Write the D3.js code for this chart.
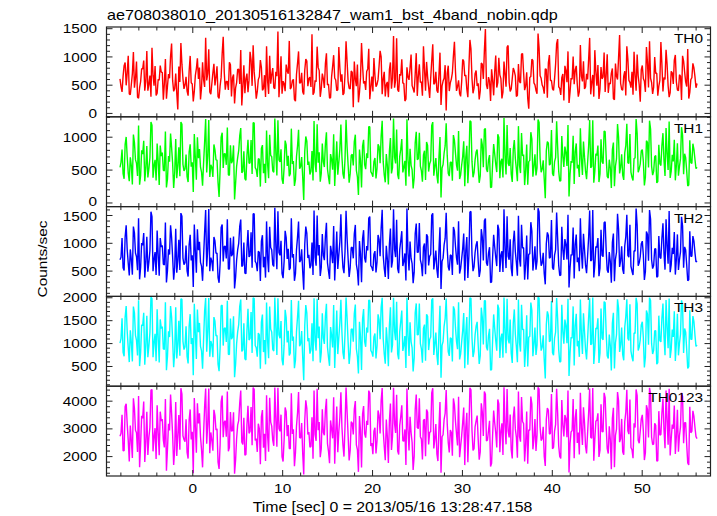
<!DOCTYPE html>
<html><head><meta charset="utf-8">
<script src="https://cdn.jsdelivr.net/npm/d3@7"></script>
<style>html,body{margin:0;padding:0;background:#fff;}svg{display:block;}</style>
</head><body>
<svg id="chart" width="717" height="516"></svg>
<script>
const title = "ae708038010_20130516132847_wam1_bst_4band_nobin.qdp";
const xLabel = "Time [sec] 0 = 2013/05/16 13:28:47.158";
const yLabel = "Counts/sec";
const tStart = -8.1, tEnd = 56.1;
const xTicksMajor = [0, 10, 20, 30, 40, 50];
const seriesNames = ["TH0", "TH1", "TH2", "TH3", "TH0123"];
const seriesColors = ["#ff0000", "#00ff00", "#0000ff", "#00ffff", "#ff00ff"];
const yDomains = [[-60, 1530], [-55, 1310], [45, 1660], [70, 2030], [1300, 4540]];
const yTickLabels = [[0, 500, 1000, 1500], [0, 500, 1000], [500, 1000, 1500], [500, 1000, 1500, 2000], [2000, 3000, 4000]];
const yMinorStep = [100, 100, 100, 100, 200];

// Each light curve is listed as two read-off halves of alternating bins (even bins, odd bins).
const TH0_even = [612,380,845,497,1021,330,702,455,918,270,563,788,402,1104,515,296,677,840,358,590,
731,244,965,480,622,1237,391,705,68,556,872,434,649,315,1018,520,389,793,611,247,
904,468,585,1136,342,718,497,833,265,642,1355,420,566,907,301,688,452,779,523,139,
851,614,376,1092,488,735,262,598,943,410,677,1190,345,526,802,438,660,287,1012,571,
392,749,1284,466,603,218,887,539,720,335,964,481,642,1401,370,561,815,294,705,452,
1063,518,276,834,627,401,1175,563,327,690,918,445,752,109,607,866,372,1247,530,416,
788,253,651,980,472,598,1109,341,736,512,287,903,628,455,1329,384,672,541,219,817,
594,1042,437,702,311,869,560,1188,402,648,275,931,517,738,366,1076,489,623,54,845,
541,716,1268,398,587,302,955,664,428,813,1142,357,701,486,247,892,611,1495,433,569,
781,320,1026,547,683,264,918,472,1203,389,615,750,298,874,539,1061,412,728,83,652,
937,506,349,1157,621,458,790,276,1034,583,407,869,1316,445,632,229,758,1098,381,604,
519,842,297,1213,566,431,703,957,338,681,1120,492,256,819,645,379,1045,537,714,262,
883,599,1387,426,658,318,962,549,735,1093,403,667,207,849,571,1176,458,622,344,997,
710,481,1262,389,603,871,288,746,522,1035,415,684,239,927,558,1141,372,631,806,455];
const TH0_odd = [473,655,902,718,344,512,1087,623,287,455,790,936,558,402,671,1163,489,318,604,847,
725,530,261,698,1012,584,437,362,829,1246,617,503,394,756,542,213,668,975,811,456,
592,1338,704,381,529,877,640,295,488,1059,733,567,414,862,630,176,547,781,1124,468,
359,706,589,943,1207,521,384,650,812,437,293,574,1021,688,455,739,1452,610,348,523,
866,702,431,579,248,693,1098,540,382,765,927,616,470,331,584,1182,757,439,612,883,
505,274,648,1031,592,418,806,691,357,1276,564,433,726,918,483,196,629,850,571,742,
1145,463,389,672,514,839,1003,611,302,558,775,436,1369,587,420,695,958,527,251,643,
809,492,371,1067,658,548,313,781,912,465,627,1224,539,406,688,151,572,854,713,396,
608,1018,745,477,352,563,926,681,288,1301,619,447,760,532,398,871,1105,504,643,222,
589,736,457,983,617,375,692,1172,548,431,803,664,319,562,1049,721,486,267,634,958,
541,407,1413,668,502,348,779,895,583,436,615,1236,472,328,697,843,551,186,624,1008,
768,513,384,659,921,470,602,1337,545,297,736,858,429,613,1079,680,364,521,795,242,
657,984,533,411,748,1190,586,455,329,672,1041,504,776,617,381,906,1278,548,467,709,
314,583,862,637,1126,489,369,718,945,556,402,661,1019,734,475,263,598,887,651,530];

const TH1_even = [540,812,367,1004,455,693,281,918,602,1176,418,745,329,866,521,1230,384,657,905,273,
714,498,1087,362,629,841,230,972,566,406,1195,489,738,318,893,617,1049,352,681,544,
264,927,463,1261,580,397,809,652,93,1002,533,746,1148,421,604,875,300,690,1019,458,
785,345,962,611,439,1217,508,672,249,880,595,1103,376,723,489,1284,417,653,815,291,
948,562,408,1130,636,355,867,520,698,47,1011,579,433,791,1246,468,612,325,904,547,
1073,391,744,505,259,936,620,1192,443,668,853,310,721,572,1038,397,811,236,959,514,
683,1159,446,629,374,892,603,1251,428,745,281,986,537,697,1115,362,818,465,640,1272,
402,573,220,914,656,1066,487,731,348,873,598,1177,415,682,296,1004,531,760,1210,453,
619,339,951,577,1094,426,706,254,869,610,1233,391,655,812,307,978,542,1130,470,728,
241,896,589,1045,378,671,1290,433,604,836,319,957,514,1168,455,716,272,889,628,1076,
398,741,532,1222,467,650,73,932,575,1109,412,689,845,330,1017,549,766,1185,441,613,
287,905,582,1134,426,697,362,861,534,1258,479,724,318,970,596,1084,405,658,228,918,
562,1199,450,741,351,873,613,1048,389,676,1276,466,595,812,267,947,538,1123,424,702,
305,884,569,1061,412,745,1237,483,631,344,906,556,1152,437,687,259,953,600,814,521];
const TH1_odd = [618,447,893,702,331,566,1041,659,412,278,803,946,527,389,690,1183,571,342,634,872,
765,488,236,712,1054,603,451,375,848,1231,586,519,401,779,552,168,684,998,820,470,
611,1277,713,396,542,889,655,307,503,1068,751,580,428,876,641,52,558,795,1139,482,
371,722,603,958,1219,537,397,667,829,452,305,588,1036,703,466,752,1258,624,362,538,
881,718,445,594,259,707,1112,553,394,780,940,630,483,343,597,1195,772,451,626,898,
517,286,661,1046,605,430,819,705,369,1264,577,446,741,933,495,121,642,864,584,757,
1158,476,400,685,527,853,1017,624,314,571,788,449,1283,600,433,709,972,540,263,656,
823,505,383,1081,671,561,325,795,926,478,641,1229,552,418,701,83,585,867,727,408,
621,1032,758,490,364,576,939,694,300,1248,632,460,774,545,410,885,1119,517,656,234,
602,749,470,997,630,387,705,1186,561,443,817,677,331,575,1063,735,498,279,647,972,
554,419,1270,681,515,360,793,909,596,448,628,1241,485,340,710,857,564,98,637,1022,
782,526,396,672,935,483,615,1262,558,309,749,872,441,626,1093,693,376,534,809,254,
670,998,546,423,762,1203,599,468,341,685,1055,517,790,630,393,920,1251,561,480,722,
326,596,876,650,1140,502,381,731,959,569,415,674,1033,748,488,275,611,901,664,543];

const TH2_even = [705,1093,512,1324,640,890,436,1188,758,1452,571,968,383,1117,662,1568,497,842,1230,418,
936,624,1372,509,797,1105,346,1261,689,521,1486,617,961,402,1154,783,1337,470,876,658,
325,1209,583,1617,742,497,1042,823,289,1285,674,947,1431,538,768,1120,392,880,1303,583,
1012,455,1239,781,562,1533,641,858,324,1146,756,1394,480,923,616,1640,533,835,1047,374,
1226,719,521,1452,808,452,1111,662,893,165,1300,737,550,1015,1589,596,783,414,1167,697,
1368,497,955,643,331,1211,792,1522,563,853,1093,394,921,730,1331,505,1039,302,1236,655,
872,1481,569,803,476,1150,768,1601,547,954,358,1264,685,889,1422,462,1045,592,818,1627,
513,731,283,1176,836,1364,622,935,442,1121,764,1502,530,871,377,1287,676,972,1548,577,
790,432,1221,736,1397,543,902,329,1111,778,1573,498,835,1038,394,1254,690,1447,598,930,
306,1151,750,1335,483,857,1611,554,772,1071,407,1227,655,1494,581,915,346,1138,803,1380,
509,946,679,1562,596,829,262,1197,733,1420,526,881,1081,421,1298,702,978,1513,563,784,
368,1158,745,1451,545,891,462,1103,684,1599,612,926,408,1243,760,1385,518,843,292,1175,
717,1532,575,946,449,1118,782,1335,498,865,1627,597,761,1039,341,1211,687,1436,544,898,
389,1132,726,1358,526,953,1582,618,806,437,1160,708,1478,559,879,327,1215,767,1040,663];
const TH2_odd = [748,561,1117,882,420,709,1302,826,517,352,1005,1186,661,489,866,1478,716,430,795,1094,
960,612,297,894,1322,756,566,471,1063,1543,735,651,503,977,692,215,858,1251,1028,589,
767,1600,893,497,680,1114,821,385,631,1338,942,727,537,1098,804,188,700,997,1427,604,
465,906,756,1200,1527,674,498,837,1040,568,383,738,1298,882,585,943,1575,783,454,675,
1104,900,558,745,325,887,1393,694,494,978,1179,791,606,430,749,1498,969,566,785,1128,
649,359,829,1311,759,539,1027,884,463,1584,724,560,929,1170,620,243,805,1083,732,950,
1451,597,502,859,661,1069,1276,783,394,716,988,563,1612,752,543,889,1218,677,330,822,
1032,634,481,1355,841,703,407,997,1162,600,803,1540,692,524,879,178,733,1087,912,512,
779,1294,951,614,457,722,1177,870,377,1563,792,577,970,683,514,1110,1403,648,822,294,
755,938,590,1250,790,486,884,1487,703,555,1024,848,416,721,1333,921,624,350,811,1219,
694,526,1630,853,646,452,994,1140,748,562,788,1555,608,427,889,1075,708,205,798,1282,
980,660,497,843,1173,606,771,1588,700,387,940,1094,553,785,1371,869,472,671,1016,319,
839,1252,684,531,955,1511,751,587,429,858,1325,649,991,789,493,1157,1597,704,602,903,
409,748,1099,815,1432,631,479,918,1203,713,521,846,1310,936,612,346,767,1130,833,680];

const TH3_even = [1012,1553,724,1820,905,1288,611,1672,1071,1946,808,1390,539,1605,948,2010,701,1213,1747,589,
1331,883,1904,717,1142,1580,486,1793,972,735,1968,869,1377,566,1642,1119,1867,663,1247,938,
452,1718,824,1995,1057,702,1489,1178,398,1826,956,1345,1933,760,1095,1594,548,1255,1812,828,
1441,643,1761,1114,797,1982,912,1228,451,1632,1076,1897,681,1311,875,2004,752,1190,1493,526,
1739,1023,738,1951,1152,640,1580,942,1273,201,1842,1049,781,1443,1990,847,1119,585,1660,992,
1870,704,1359,915,466,1721,1128,1958,800,1216,1556,557,1311,1040,1851,716,1477,425,1756,930,
1241,1937,809,1144,676,1639,1093,2001,776,1357,505,1791,973,1266,1914,657,1485,841,1165,1999,
729,1043,392,1672,1189,1877,885,1331,626,1597,1089,1951,752,1240,531,1826,961,1383,1985,818,
1124,611,1741,1047,1902,771,1286,462,1581,1108,1987,706,1189,1476,558,1784,982,1935,851,1324,
434,1637,1068,1851,687,1218,2003,788,1099,1524,576,1746,932,1963,826,1305,490,1618,1143,1896,
723,1348,966,1992,847,1180,238,1703,1042,1927,748,1252,1537,597,1846,999,1390,1977,800,1117,
521,1650,1060,1961,774,1265,655,1571,973,2008,869,1318,578,1767,1084,1890,736,1199,413,1674,
1019,1968,817,1348,636,1590,1115,1856,706,1232,1998,849,1083,1475,481,1724,976,1942,773,1278,
551,1610,1036,1873,748,1358,1984,880,1147,621,1652,1008,1943,795,1251,459,1729,1092,1480,940];
const TH3_odd = [1109,812,1581,1265,596,1021,1807,1178,740,509,1412,1672,951,703,1243,1986,1025,617,1131,1528,
1370,873,421,1269,1820,1082,805,674,1500,1972,1049,933,721,1381,990,309,1226,1745,1451,842,
1095,1994,1270,712,974,1578,1168,552,903,1839,1331,1035,768,1546,1145,268,1001,1412,1960,862,
667,1289,1078,1690,2002,960,714,1192,1471,815,547,1055,1811,1255,836,1341,1988,1116,650,966,
1565,1280,797,1063,465,1262,1933,990,707,1387,1666,1122,865,615,1067,1979,1375,808,1118,1597,
925,515,1180,1840,1083,771,1450,1259,661,2006,1032,800,1323,1654,885,348,1147,1537,1045,1350,
1951,853,716,1222,946,1515,1790,1112,563,1022,1399,805,2001,1072,775,1264,1720,966,470,1171,
1463,905,689,1877,1198,1002,582,1414,1640,858,1144,1989,987,749,1252,257,1045,1545,1296,731,
1110,1813,1353,876,654,1031,1667,1238,540,1998,1128,824,1378,974,735,1575,1935,925,1170,421,
1078,1334,843,1764,1125,694,1258,1976,1003,792,1449,1203,595,1028,1848,1310,890,501,1155,1727,
989,753,2009,1214,922,645,1408,1613,1065,802,1122,1994,868,611,1265,1526,1008,293,1139,1812,
1393,940,711,1200,1664,866,1097,1991,997,554,1338,1553,789,1118,1917,1236,674,957,1443,456,
1195,1770,976,758,1356,1968,1069,838,613,1222,1868,924,1408,1124,706,1641,2003,1004,858,1283,
585,1066,1561,1161,1952,901,685,1306,1706,1016,744,1204,1850,1330,872,495,1093,1602,1186,970];

const TH0123_even = [2736,3512,2215,3903,2581,3120,1949,3744,2862,4188,2453,3387,1802,3615,2688,4396,2190,3025,3851,2047,
3290,2596,4075,2262,2943,3560,1698,3967,2760,2245,4251,2619,3348,1931,3702,2893,4110,2141,3196,2714,
1612,3805,2468,4460,2871,2212,3477,3003,1554,3988,2697,3296,4344,2330,2919,3601,1883,3136,3922,2528,
3405,2076,3834,2905,2409,4423,2655,3186,1725,3677,2822,4210,2173,3246,2594,4495,2356,3012,3513,1820,
3771,2736,2297,4289,2988,2140,3574,2687,3212,1356,4031,2797,2342,3416,4382,2566,2950,1980,3710,2772,
4087,2191,3305,2659,1744,3807,2910,4318,2417,3096,3620,1861,3259,2802,4004,2254,3461,1605,3824,2684,
3143,4284,2486,2913,2116,3665,2838,4472,2370,3338,1769,3915,2732,3185,4230,2078,3446,2569,2981,4453,
2225,2870,1514,3702,3052,4108,2630,3307,2009,3601,2876,4302,2295,3172,1838,3971,2714,3346,4401,2514,
2958,2035,3868,2822,4157,2373,3226,1693,3584,2934,4410,2219,3077,3481,1892,3920,2746,4253,2597,3289,
1762,3664,2859,4059,2160,3203,4505,2442,2931,3522,1931,3804,2701,4349,2540,3267,1827,3628,2968,4168,
2262,3354,2778,4437,2579,3077,1663,3748,2813,4261,2333,3154,3559,2002,4040,2729,3371,4388,2471,2940,
1938,3711,2868,4300,2420,3226,2112,3572,2698,4478,2619,3305,1985,3887,2895,4127,2285,3091,1546,3759,
2763,4331,2522,3360,2066,3598,2935,4062,2249,3204,4422,2590,2915,3504,1876,3852,2688,4265,2437,3199,
1841,3640,2801,4092,2306,3342,4451,2648,3005,2094,3686,2760,4301,2484,3225,1774,3799,2908,3447,2718];
const TH0123_odd = [2842,2210,3810,3180,1820,2560,4105,2950,2170,1620,3470,3990,2520,2060,3055,4420,2710,1910,2880,3620,
3350,2330,1490,3180,4240,2790,2260,2020,3500,4470,2750,2540,2150,3330,2620,1400,3070,3920,3560,2250,
2840,4460,3170,2120,2590,3690,2960,1800,2430,4200,3240,2720,2190,3610,2940,1380,2660,3300,4380,2440,
2050,3160,2840,3790,4490,2580,2170,3010,3430,2320,1840,2760,4120,3100,2390,3290,4480,2910,1990,2600,
3620,3140,2280,2820,1650,3110,4330,2660,2120,3300,3740,2890,2370,1920,2800,4450,3250,2290,2870,3680,
2480,1760,3000,4140,2860,2160,3410,3080,2000,4490,2760,2220,3210,3710,2420,1450,2930,3530,2830,3290,
4380,2380,2090,3040,2570,3490,4020,2930,1870,2720,3300,2240,4480,2850,2200,3120,3850,2560,1700,2980,
3440,2510,2010,4240,3010,2720,1900,3350,3700,2440,2900,4470,2620,2100,3060,1420,2790,3560,3200,2150,
2870,4100,3270,2400,1980,2750,3770,3040,1800,4480,2950,2290,3290,2630,2170,3610,4350,2560,2940,1640,
2800,3220,2330,3900,2930,2060,3100,4440,2690,2250,3420,3000,1960,2730,4150,3190,2460,1740,2950,3890,
2640,2200,4500,3070,2650,2010,3340,3670,2840,2280,2920,4450,2390,1930,3140,3500,2700,1430,2890,4080,
3380,2490,2080,3030,3780,2370,2860,4460,2660,1850,3280,3560,2230,2900,4300,3080,2110,2620,3370,1620,
2990,4010,2640,2170,3260,4410,2810,2330,1940,3050,4200,2480,3360,2920,2140,3700,4480,2700,2450,3130,
1850,2770,3580,2980,4380,2430,2040,3160,3840,2740,2180,3070,4170,3220,2440,1700,2860,3650,3060,2650];

const allSeries = [
  d3.zip(TH0_even, TH0_odd).flat(),
  d3.zip(TH1_even, TH1_odd).flat(),
  d3.zip(TH2_even, TH2_odd).flat(),
  d3.zip(TH3_even, TH3_odd).flat(),
  d3.zip(TH0123_even, TH0123_odd).flat()
];

// layout
const L = 106.5, R = 710.5, TOP = 27, PH = 89.8;
const SX = 1.14, FS = 13.5;
const FONT = "'Liberation Sans', Arial, Helvetica, sans-serif";
const svg = d3.select("#chart");
const x = d3.scaleLinear().domain([-9.6, 57.6]).range([L, R]);

function txt(g, s, px, py, anchor, size) {
  return g.append("text").text(s)
    .attr("transform", `translate(${px},${py}) scale(${SX},1)`)
    .attr("text-anchor", anchor)
    .attr("font-family", FONT).attr("font-size", size || FS).attr("fill", "#000");
}

const xMinor = d3.range(-8, 57, 2);

allSeries.forEach((vals, k) => {
  const top = TOP + k * PH, bot = top + PH;
  const y = d3.scaleLinear().domain(yDomains[k]).range([bot, top]);
  const n = vals.length;
  const tx = d3.scaleLinear().domain([0, n - 1]).range([tStart, tEnd]);
  const line = d3.line().x((d, i) => x(tx(i))).y(d => y(d));
  svg.append("path").datum(vals).attr("d", line)
    .attr("fill", "none").attr("stroke", seriesColors[k])
    .attr("stroke-width", 1.4).attr("stroke-linejoin", "bevel");

  const g = svg.append("g");
  g.append("rect").attr("x", L).attr("y", top).attr("width", R - L).attr("height", PH)
    .attr("fill", "none").attr("stroke", "#222").attr("stroke-width", 1.2);
  xMinor.forEach(t => {
    const len = (t % 10 === 0) ? 6 : 3.5;
    const xp = x(t);
    g.append("line").attr("x1", xp).attr("x2", xp).attr("y1", bot).attr("y2", bot - len)
      .attr("stroke", "#222").attr("stroke-width", 1);
    g.append("line").attr("x1", xp).attr("x2", xp).attr("y1", top).attr("y2", top + len)
      .attr("stroke", "#222").attr("stroke-width", 1);
  });
  const [d0, d1] = yDomains[k];
  const st = yMinorStep[k];
  const minors = d3.range(Math.ceil(d0 / st) * st, d1 + 0.001, st);
  minors.forEach(v => {
    const major = v % (k === 4 ? 1000 : 500) === 0;
    const len = major ? 6 : 3.5;
    const yp = y(v);
    g.append("line").attr("x1", L).attr("x2", L + len).attr("y1", yp).attr("y2", yp)
      .attr("stroke", "#222").attr("stroke-width", 1);
    g.append("line").attr("x1", R).attr("x2", R - len).attr("y1", yp).attr("y2", yp)
      .attr("stroke", "#222").attr("stroke-width", 1);
  });
  yTickLabels[k].forEach(v => {
    let dy = 4.6;
    if (k === 1 && v === 0) dy = 3.4;
    if (k === 2 && v === 1500) dy = 5.8;
    txt(g, String(v), 97, y(v) + dy, "end");
  });
  txt(g, seriesNames[k], 703, top + 16, "end");
  if (k === 4) {
    xTicksMajor.forEach(t => txt(g, String(t), x(t), 493, "middle"));
  }
});

txt(svg, title, 107, 20, "start", 14.2);
txt(svg, xLabel, 392.5, 512, "middle", 13.9);
svg.append("text").text(yLabel)
  .attr("transform", `translate(46.5,259) rotate(-90) scale(${SX},1)`)
  .attr("text-anchor", "middle").attr("font-family", FONT).attr("font-size", FS).attr("fill", "#000");
</script>
</body></html>
